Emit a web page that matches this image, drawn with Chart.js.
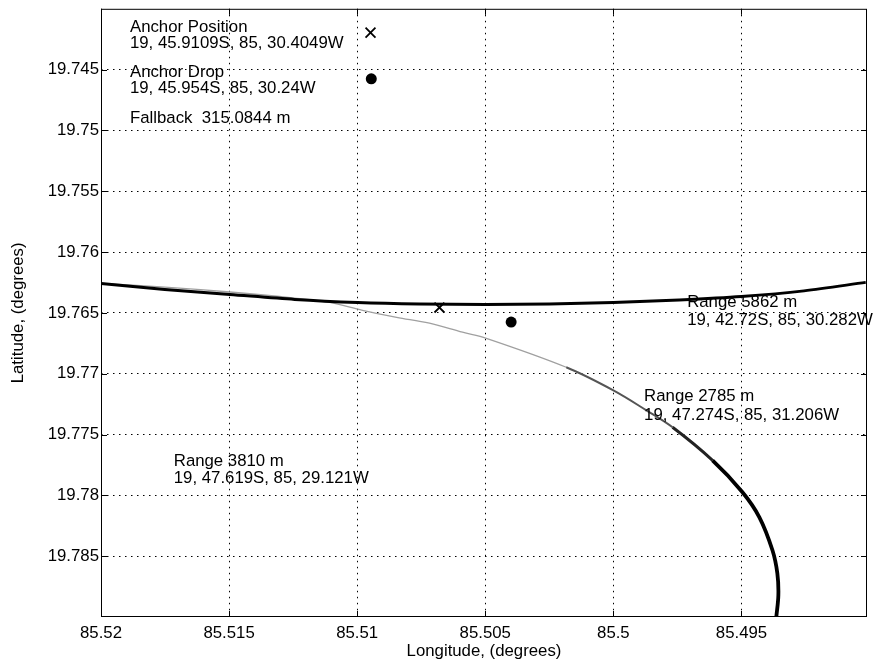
<!DOCTYPE html>
<html>
<head>
<meta charset="utf-8">
<script src="https://cdn.jsdelivr.net/npm/chart.js@4/dist/chart.umd.min.js"></script>
<style>
html, body { margin: 0; padding: 0; background: #fff; }
#wrap { width: 877px; height: 664px; }
</style>
</head>
<body>
<div id="wrap"><canvas id="track_graph" width="877" height="664"></canvas></div>
<script>
var xTicks = [85.52, 85.515, 85.51, 85.505, 85.5, 85.495];
var yTicks = [19.745, 19.75, 19.755, 19.76, 19.765, 19.77, 19.775, 19.78, 19.785];

// range arc (thick black line)
var arcLon = [85.52, 85.51751, 85.51497, 85.51244, 85.50998, 85.50757, 85.505, 85.5025, 85.5, 85.49743, 85.495, 85.49256, 85.49015];
var arcLat = [19.76258, 19.76307, 19.76348, 19.76389, 19.76414, 19.76426, 19.76430, 19.76426, 19.76414, 19.76393, 19.76365, 19.76319, 19.76249];

// drift track
var trackLon = [85.52, 85.51751, 85.51497, 85.51244, 85.51108, 85.50979, 85.50846, 85.50718, 85.50589, 85.50496,
                85.50184, 85.5, 85.49871, 85.49769, 85.49613, 85.49496, 85.4943, 85.49379, 85.4936, 85.49356, 85.49364];
var trackLat = [19.76258, 19.76288, 19.76328, 19.76378, 19.76414, 19.76479, 19.76536, 19.76585, 19.76659, 19.76709,
                19.76947, 19.77137, 19.77301, 19.7744, 19.77712, 19.77974, 19.7818, 19.78451, 19.7864, 19.7882, 19.79];

// markers
var crossLon = [85.50948, 85.50679];
var crossLat = [19.74196, 19.76456];
var dotLon = [85.50945, 85.50399];
var dotLat = [19.74576, 19.76575];

// annotations (left edge / baseline in data units)
var noteText = ['Anchor Position', '19, 45.9109S, 85, 30.4049W', 'Anchor Drop', '19, 45.954S, 85, 30.24W', 'Fallback  315.0844 m',
                'Range 5862 m', '19, 42.72S, 85, 30.282W', 'Range 2785 m', '19, 47.274S, 85, 31.206W', 'Range 3810 m', '19, 47.619S, 85, 29.121W'];
var noteLon = [85.51887, 85.51887, 85.51887, 85.51887, 85.51887, 85.49712, 85.49712, 85.49880, 85.49880, 85.51716, 85.51716];
var noteLat = [19.74188, 19.74319, 19.74557, 19.74689, 19.74935, 19.76452, 19.76602, 19.77223, 19.77382, 19.77757, 19.77901];

var FONT = 'Liberation Sans, Arial, Helvetica, sans-serif';
var FSIZE = 16.8;

function pts(lon, lat){
    var out = [];
    for(var i=0; i<lon.length; i++){
        out.push({x: lon[i], y: lat[i]});
    }
    return out;
}

// darker and wider where the track points get denser
function trackShade(lat){
    if(lat < 19.769) return ['#a0a0a0', 1.3];
    if(lat < 19.7735) return ['#555', 2];
    if(lat < 19.777) return ['#222', 3];
    return ['#000', 3.8];
}

function noPad(s){
    s.paddingTop = 0;
    s.paddingBottom = 0;
    s.paddingLeft = 0;
    s.paddingRight = 0;
}

var framePlugin = {
    id: 'frame',
    afterDatasetsDraw: function(chart){
        var ctx = chart.ctx, a = chart.chartArea;
        var xs = chart.scales.x, ys = chart.scales.y;
        ctx.save();
        ctx.strokeStyle = '#000';
        ctx.lineWidth = 1;
        ctx.strokeRect(a.left + 0.5, a.top + 0.5, a.right - a.left - 1, a.bottom - a.top - 1);
        ctx.beginPath();
        xTicks.forEach(function(v){
            var px = Math.round(xs.getPixelForValue(v)) + 0.5;
            ctx.moveTo(px, a.bottom); ctx.lineTo(px, a.bottom - 6);
            ctx.moveTo(px, a.top); ctx.lineTo(px, a.top + 6);
        });
        yTicks.forEach(function(v){
            var py = Math.round(ys.getPixelForValue(v)) + 0.5;
            ctx.moveTo(a.left, py); ctx.lineTo(a.left + 6, py);
            ctx.moveTo(a.right, py); ctx.lineTo(a.right - 6, py);
        });
        ctx.stroke();

        // text notes
        ctx.fillStyle = '#000';
        ctx.font = FSIZE + 'px ' + FONT;
        ctx.textAlign = 'left';
        ctx.textBaseline = 'alphabetic';
        for(var i=0; i<noteText.length; i++){
            ctx.fillText(noteText[i], xs.getPixelForValue(noteLon[i]), ys.getPixelForValue(noteLat[i]));
        }
        ctx.restore();
    }
};

var ctx = document.getElementById('track_graph').getContext('2d');
var chart = new Chart(ctx, {
    type: 'scatter',
    data: {
        datasets: [{
            label: 'Range arc',
            data: pts(arcLon, arcLat),
            showLine: true,
            borderColor: '#000',
            borderWidth: 3,
            pointRadius: 0,
            tension: 0.3,
            fill: false
        }, {
            label: 'Track',
            data: pts(trackLon, trackLat),
            showLine: true,
            borderColor: '#a0a0a0',
            borderWidth: 1.3,
            pointRadius: 0,
            tension: 0.35,
            fill: false,
            segment: {
                borderColor: function(c){ return trackShade(c.p0.parsed.y)[0]; },
                borderWidth: function(c){ return trackShade(c.p0.parsed.y)[1]; }
            }
        }, {
            label: 'Position',
            data: pts(crossLon, crossLat),
            pointStyle: 'crossRot',
            pointRadius: 7,
            borderColor: '#000',
            borderWidth: 1.8
        }, {
            label: 'Drop',
            data: pts(dotLon, dotLat),
            pointStyle: 'circle',
            pointRadius: 5.5,
            backgroundColor: '#000',
            borderColor: '#000',
            borderWidth: 0
        }]
    },
    options: {
        responsive: false,
        maintainAspectRatio: false,
        animation: false,
        events: [],
        layout: { padding: { top: 8.5, right: 10, left: 0, bottom: 0 } },
        plugins: {
            legend: { display: false },
            tooltip: { enabled: false }
        },
        scales: {
            x: {
                type: 'linear',
                reverse: true,
                min: 85.4901,
                max: 85.52,
                afterBuildTicks: function(s){ s.ticks = xTicks.map(function(v){ return {value: v}; }); },
                afterFit: function(s){ s.height = 47; noPad(s); },
                grid: { color: '#000', lineWidth: 1, drawTicks: false },
                border: { display: false, dash: [1.5, 4.5] },
                ticks: {
                    color: '#000',
                    padding: 6,
                    maxRotation: 0,
                    autoSkip: false,
                    font: { family: FONT, size: FSIZE },
                    callback: function(v){ return String(+v.toFixed(3)); }
                },
                title: {
                    display: true,
                    text: 'Longitude, (degrees)',
                    color: '#000',
                    font: { family: FONT, size: FSIZE },
                    padding: { top: 0, bottom: 3 }
                }
            },
            y: {
                type: 'linear',
                reverse: true,
                min: 19.74,
                max: 19.79,
                afterBuildTicks: function(s){ s.ticks = yTicks.map(function(v){ return {value: v}; }); },
                afterFit: function(s){ s.width = 101; noPad(s); },
                grid: { color: '#000', lineWidth: 1, drawTicks: false },
                border: { display: false, dash: [1.5, 4.5] },
                ticks: {
                    color: '#000',
                    padding: 2,
                    autoSkip: false,
                    font: { family: FONT, size: FSIZE },
                    callback: function(v){ return String(+v.toFixed(3)); }
                },
                title: {
                    display: true,
                    text: 'Latitude, (degrees)',
                    color: '#000',
                    font: { family: FONT, size: FSIZE },
                    padding: { top: 8.5, bottom: 0 }
                }
            }
        }
    },
    plugins: [framePlugin]
});
</script>
</body>
</html>
